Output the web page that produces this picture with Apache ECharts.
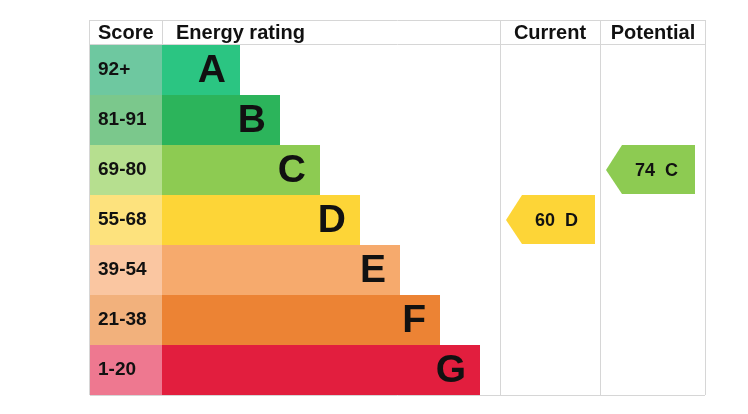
<!DOCTYPE html>
<html>
<head>
<meta charset="utf-8">
<script src="https://cdn.jsdelivr.net/npm/echarts@6/dist/echarts.min.js"></script>
<style>html,body{margin:0;padding:0;background:#fff}#c{width:748px;height:414px}</style>
</head>
<body>
<div id="c"></div>
<script>
// ---- data ----
const ratings = ['A', 'B', 'C', 'D', 'E', 'F', 'G'];
const scoreRanges = ['92+', '81-91', '69-80', '55-68', '39-54', '21-38', '1-20'];
const scoreMins = [92, 81, 69, 55, 39, 21, 1];
const barLevels = [1, 2, 3, 4, 5, 6, 7];
const headers = ['Score', 'Energy rating', 'Current', 'Potential'];
const currentScore = 60;
const potentialScore = 74;

// ---- styles ----
const barColors = ['#2bc582', '#2cb45b', '#8dcb52', '#fdd537', '#f6aa6d', '#ec8334', '#e21e3e'];
const scoreColors = ['#6ec8a0', '#7bc88c', '#b6df8f', '#fde27d', '#fac6a1', '#f2b17c', '#ee7890'];
const FAMILY = 'Liberation Sans';
const LINE = '#d6d6d6';
const TXT = '#111111';

// layout (x axis units = px inside the table)
const SCORE_W = 72, BAR_BASE = 38, BAR_STEP = 40;
const CUR_L = 410, POT_L = 510, TABLE_R = 615;

function bandOf(score) {
  for (let i = 0; i < scoreMins.length; i++) if (score >= scoreMins[i]) return i;
  return scoreMins.length - 1;
}
function txt(text, size, extra) {
  return Object.assign({ text: text, fontFamily: FAMILY, fontWeight: 'bold', fontSize: size, fill: TXT }, extra || {});
}

const chart = echarts.init(document.getElementById('c'));

const rows = ratings.map((r, i) => [barLevels[i], i]);
const arrows = [
  [currentScore, bandOf(currentScore), CUR_L],
  [potentialScore, bandOf(potentialScore), POT_L]
];

chart.setOption({
  animation: false,
  grid: { left: 90, top: 45, width: 615, height: 350 },
  xAxis: { type: 'value', min: 0, max: TABLE_R, show: false },
  yAxis: { type: 'category', data: ratings, inverse: true, show: false },
  graphic: [
    { type: 'text', x: 98, y: 33, style: txt(headers[0], 20, { textVerticalAlign: 'middle' }) },
    { type: 'text', x: 176, y: 33, style: txt(headers[1], 20, { textVerticalAlign: 'middle' }) },
    { type: 'text', x: 550, y: 33, style: txt(headers[2], 20, { textAlign: 'center', textVerticalAlign: 'middle' }) },
    { type: 'text', x: 653, y: 33, style: txt(headers[3], 20, { textAlign: 'center', textVerticalAlign: 'middle' }) }
  ],
  series: [
    {
      type: 'custom',
      data: rows,
      silent: true,
      renderItem: function (params, api) {
        const i = api.value(1);
        const level = api.value(0);
        const p0 = api.coord([0, i]);
        const h = api.size([0, 1])[1];
        const y = p0[1] - h / 2;
        const xScoreR = api.coord([SCORE_W, i])[0];
        const xBarR = api.coord([SCORE_W + BAR_BASE + BAR_STEP * level, i])[0];
        return {
          type: 'group',
          children: [
            { type: 'rect', shape: { x: p0[0], y: y, width: xScoreR - p0[0], height: h }, style: { fill: scoreColors[i] } },
            { type: 'rect', shape: { x: xScoreR, y: y, width: xBarR - xScoreR, height: h }, style: { fill: barColors[i] } },
            { type: 'text', x: p0[0] + 8, y: p0[1], style: txt(scoreRanges[i], 19, { textVerticalAlign: 'middle' }) },
            { type: 'text', x: xBarR - 14, y: p0[1] + 1, style: txt(ratings[i], 39, { textAlign: 'right', textVerticalAlign: 'middle' }) }
          ]
        };
      }
    },
    {
      type: 'custom',
      data: arrows,
      silent: true,
      renderItem: function (params, api) {
        const score = api.value(0);
        const i = api.value(1);
        const l = api.coord([api.value(2), i])[0];
        const c = api.coord([0, i]);
        const h = api.size([0, 1])[1];
        const top = c[1] - h / 2, bot = c[1] + h / 2 - 1;
        const tip = l + 6, body = l + 22, right = l + 95;
        return {
          type: 'group',
          children: [
            { type: 'polygon', shape: { points: [[tip, c[1]], [body, top], [right, top], [right, bot], [body, bot]] }, style: { fill: barColors[i] } },
            { type: 'text', x: (body + right) / 2 - 2, y: c[1] + 1, style: txt(score + '  ' + ratings[i], 18, { textAlign: 'center', textVerticalAlign: 'middle' }) }
          ]
        };
      }
    },
    {
      type: 'custom',
      data: [0],
      silent: true,
      z: 10,
      renderItem: function (params, api) {
        const L = api.coord([0, 0])[0];
        const S = api.coord([SCORE_W, 0])[0];
        const C = api.coord([CUR_L, 0])[0];
        const P = api.coord([POT_L, 0])[0];
        const R = api.coord([TABLE_R, 0])[0];
        const h = api.size([0, 1])[1];
        const gTop = api.coord([0, 0])[1] - h / 2;
        const gBot = api.coord([0, ratings.length - 1])[1] + h / 2;
        const hTop = gTop - 25;
        const ls = { stroke: LINE, lineWidth: 1 };
        const seg = (x1, y1, x2, y2) => ({ type: 'line', shape: { x1: x1, y1: y1, x2: x2, y2: y2 }, style: ls });
        return {
          type: 'group',
          children: [
            seg(L, hTop + 0.5, R, hTop + 0.5),
            seg(L, gTop - 0.5, R, gTop - 0.5),
            seg(L, gBot + 0.5, R, gBot + 0.5),
            seg(L - 0.5, hTop, L - 0.5, gBot),
            seg(S + 0.5, hTop, S + 0.5, gTop),
            seg(C + 0.5, hTop, C + 0.5, gBot),
            seg(P + 0.5, hTop, P + 0.5, gBot),
            seg(R + 0.5, hTop, R + 0.5, gBot)
          ]
        };
      }
    }
  ]
});
</script>
</body>
</html>
